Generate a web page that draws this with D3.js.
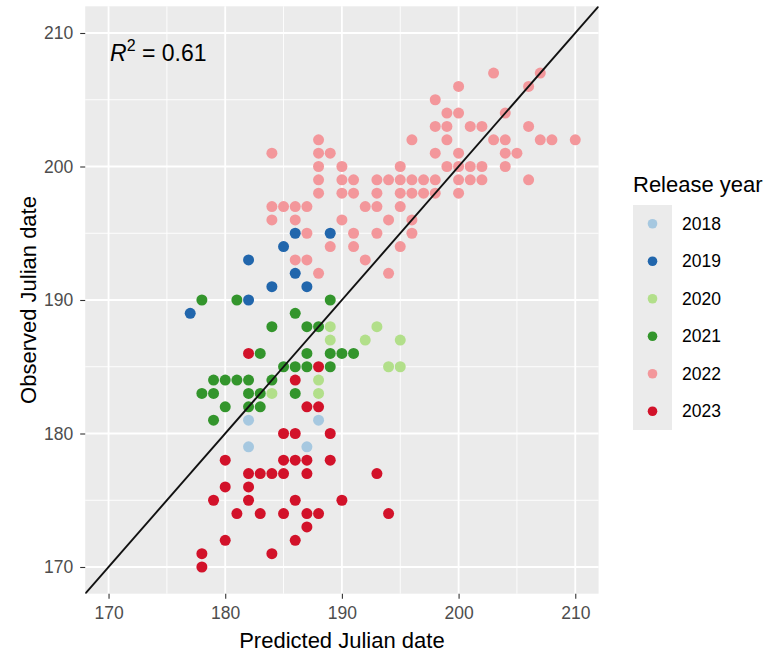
<!DOCTYPE html>
<html>
<head>
<meta charset="utf-8">
<script src="https://cdn.jsdelivr.net/npm/d3@7"></script>
<style>
  body { margin: 0; background: #fff; }
  text { font-family: "Liberation Sans", Arial, sans-serif; }
</style>
</head>
<body>
<svg width="775" height="653"></svg>
<script>
var width = 775,
    height = 653;

// Release years and their colours (Paired palette)
var years = ["2018", "2019", "2020", "2021", "2022", "2023"];
var yearColors = ["#A6C8E0", "#2166AC", "#B2DF8A", "#33952C", "#F3979B", "#D2122A"];

var xTicks = [170, 180, 190, 200, 210];
var yTicks = [170, 180, 190, 200, 210];
var minorTicks = [175, 185, 195, 205];

// [predicted, observed] per release year
var pts2018 = [[182,181],[188,181],[182,179],[187,179]];
var pts2019 = [[177,189],[182,190],[182,193],[184,191],[185,194],[186,195],[186,192],[187,191],[189,195]];
var pts2020 = [[189,188],[189,187],[188,184],[184,183],[188,183],[193,188],[192,187],[195,187],[194,185],[195,185]];
var pts2021 = [[178,190],[181,190],[189,190],[186,189],[184,188],[187,188],[188,188],[183,186],[187,186],[189,186],
  [190,186],[191,186],[185,185],[186,185],[187,185],[189,185],[179,184],[180,184],[181,184],[182,184],[184,184],
  [178,183],[179,183],[182,183],[183,183],[186,183],[180,182],[182,182],[183,182],[179,181]];
var pts2022 = [[203,207],[207,207],[200,206],[206,206],[198,205],[199,204],[200,204],[204,204],
  [198,203],[199,203],[201,203],[202,203],[206,203],
  [188,202],[196,202],[199,202],[203,202],[204,202],[207,202],[208,202],[210,202],
  [184,201],[188,201],[189,201],[198,201],[200,201],[204,201],[205,201],
  [188,200],[190,200],[195,200],[199,200],[200,200],[201,200],[202,200],[204,200],
  [188,199],[190,199],[191,199],[193,199],[194,199],[195,199],[196,199],[197,199],[198,199],[200,199],[201,199],[202,199],[206,199],
  [188,198],[190,198],[191,198],[193,198],[195,198],[196,198],[197,198],[198,198],[200,198],
  [184,197],[185,197],[186,197],[187,197],[192,197],[193,197],[195,197],
  [184,196],[186,196],[190,196],[194,196],[196,196],
  [187,195],[191,195],[193,195],[196,195],
  [189,194],[191,194],[195,194],
  [186,193],[187,193],[192,193],
  [188,192],[194,192]];
var pts2023 = [[182,186],[188,185],[186,184],[187,182],[188,182],[185,180],[186,180],[189,180],
  [180,178],[185,178],[186,178],[187,178],[189,178],[182,177],[183,177],[184,177],[185,177],[187,177],[193,177],
  [180,176],[182,176],[179,175],[182,175],[186,175],[190,175],[181,174],[183,174],[185,174],[187,174],[188,174],[194,174],
  [187,173],[180,172],[186,172],[178,171],[184,171],[178,170]];

var r2Value = "0.61";

var allPoints = [pts2018, pts2019, pts2020, pts2021, pts2022, pts2023];
var data = [];
allPoints.forEach(function (arr, i) {
    arr.forEach(function (p) {
        data.push({ pred: p[0], obs: p[1], year: years[i] });
    });
});

var panel = { left: 85.2, right: 598.6, top: 6.3, bottom: 593.7 };

var x = d3.scaleLinear().domain([168, 212]).range([panel.left, panel.right]);
var y = d3.scaleLinear().domain([168, 212]).range([panel.bottom, panel.top]);
var color = d3.scaleOrdinal().domain(years).range(yearColors);

var svg = d3.select("svg");

// panel background
svg.append("rect")
    .attr("x", panel.left).attr("y", panel.top)
    .attr("width", panel.right - panel.left)
    .attr("height", panel.bottom - panel.top)
    .attr("fill", "#EBEBEB");

// grid lines
var grid = svg.append("g");
grid.selectAll(".vminor").data(minorTicks).join("line")
    .attr("x1", d => x(d)).attr("x2", d => x(d))
    .attr("y1", panel.top).attr("y2", panel.bottom)
    .attr("stroke", "#fff").attr("stroke-width", 0.9);
grid.selectAll(".hminor").data(minorTicks).join("line")
    .attr("y1", d => y(d)).attr("y2", d => y(d))
    .attr("x1", panel.left).attr("x2", panel.right)
    .attr("stroke", "#fff").attr("stroke-width", 0.9);
grid.selectAll(".vmajor").data(xTicks).join("line")
    .attr("x1", d => x(d)).attr("x2", d => x(d))
    .attr("y1", panel.top).attr("y2", panel.bottom)
    .attr("stroke", "#fff").attr("stroke-width", 1.8);
grid.selectAll(".hmajor").data(yTicks).join("line")
    .attr("y1", d => y(d)).attr("y2", d => y(d))
    .attr("x1", panel.left).attr("x2", panel.right)
    .attr("stroke", "#fff").attr("stroke-width", 1.8);

// points
svg.append("g")
    .selectAll("circle")
    .data(data)
    .join("circle")
    .attr("cx", d => x(d.pred))
    .attr("cy", d => y(d.obs))
    .attr("r", 5.5)
    .attr("fill", d => color(d.year));

// 1:1 line, clipped to panel
svg.append("clipPath").attr("id", "clip")
    .append("rect")
    .attr("x", panel.left).attr("y", panel.top)
    .attr("width", panel.right - panel.left)
    .attr("height", panel.bottom - panel.top);
svg.append("line")
    .attr("clip-path", "url(#clip)")
    .attr("x1", x(168)).attr("y1", y(168))
    .attr("x2", x(212)).attr("y2", y(212))
    .attr("stroke", "#111").attr("stroke-width", 1.9);

// axes
var xAxis = svg.append("g")
    .attr("transform", "translate(0," + panel.bottom + ")")
    .call(d3.axisBottom(x).tickValues(xTicks).tickSize(5).tickPadding(8));
var yAxis = svg.append("g")
    .attr("transform", "translate(" + panel.left + ",0)")
    .call(d3.axisLeft(y).tickValues(yTicks).tickSize(5).tickPadding(7));
[xAxis, yAxis].forEach(function (ax) {
    ax.select(".domain").remove();
    ax.selectAll(".tick line").attr("stroke", "#333").attr("stroke-width", 1.1);
    ax.selectAll(".tick text")
        .attr("fill", "#4D4D4D")
        .style("font-size", "17.5px")
        .style("font-family", "'Liberation Sans', Arial, sans-serif");
});

// axis titles
svg.append("text")
    .attr("x", (panel.left + panel.right) / 2)
    .attr("y", 648)
    .attr("text-anchor", "middle")
    .attr("fill", "#000")
    .style("font-size", "22px")
    .text("Predicted Julian date");
svg.append("text")
    .attr("transform", "translate(36," + (panel.top + panel.bottom) / 2 + ") rotate(-90)")
    .attr("text-anchor", "middle")
    .attr("fill", "#000")
    .style("font-size", "22px")
    .text("Observed Julian date");

// R^2 annotation
var ann = svg.append("text")
    .attr("x", 110)
    .attr("y", 61)
    .attr("fill", "#000")
    .style("font-size", "23px");
ann.append("tspan").style("font-style", "italic").text("R");
ann.append("tspan").attr("dy", -10).style("font-size", "16px").text("2");
ann.append("tspan").attr("dy", 10).text(" = " + r2Value);

// legend
var legend = svg.append("g");
legend.append("text")
    .attr("x", 633).attr("y", 192)
    .attr("fill", "#000")
    .style("font-size", "22px")
    .text("Release year");
legend.append("rect")
    .attr("x", 633).attr("y", 205)
    .attr("width", 39).attr("height", 225)
    .attr("fill", "#EBEBEB");
var keyH = 37.5;
var keys = legend.selectAll(".key")
    .data(years)
    .join("g")
    .attr("transform", (d, i) => "translate(0," + (205 + keyH * i + keyH / 2) + ")");
keys.append("circle")
    .attr("cx", 652.5).attr("cy", 0).attr("r", 4.8)
    .attr("fill", d => color(d));
keys.append("text")
    .attr("x", 682).attr("y", 0).attr("dy", "0.35em")
    .attr("fill", "#000")
    .style("font-size", "17.5px")
    .text(d => d);
</script>
</body>
</html>
